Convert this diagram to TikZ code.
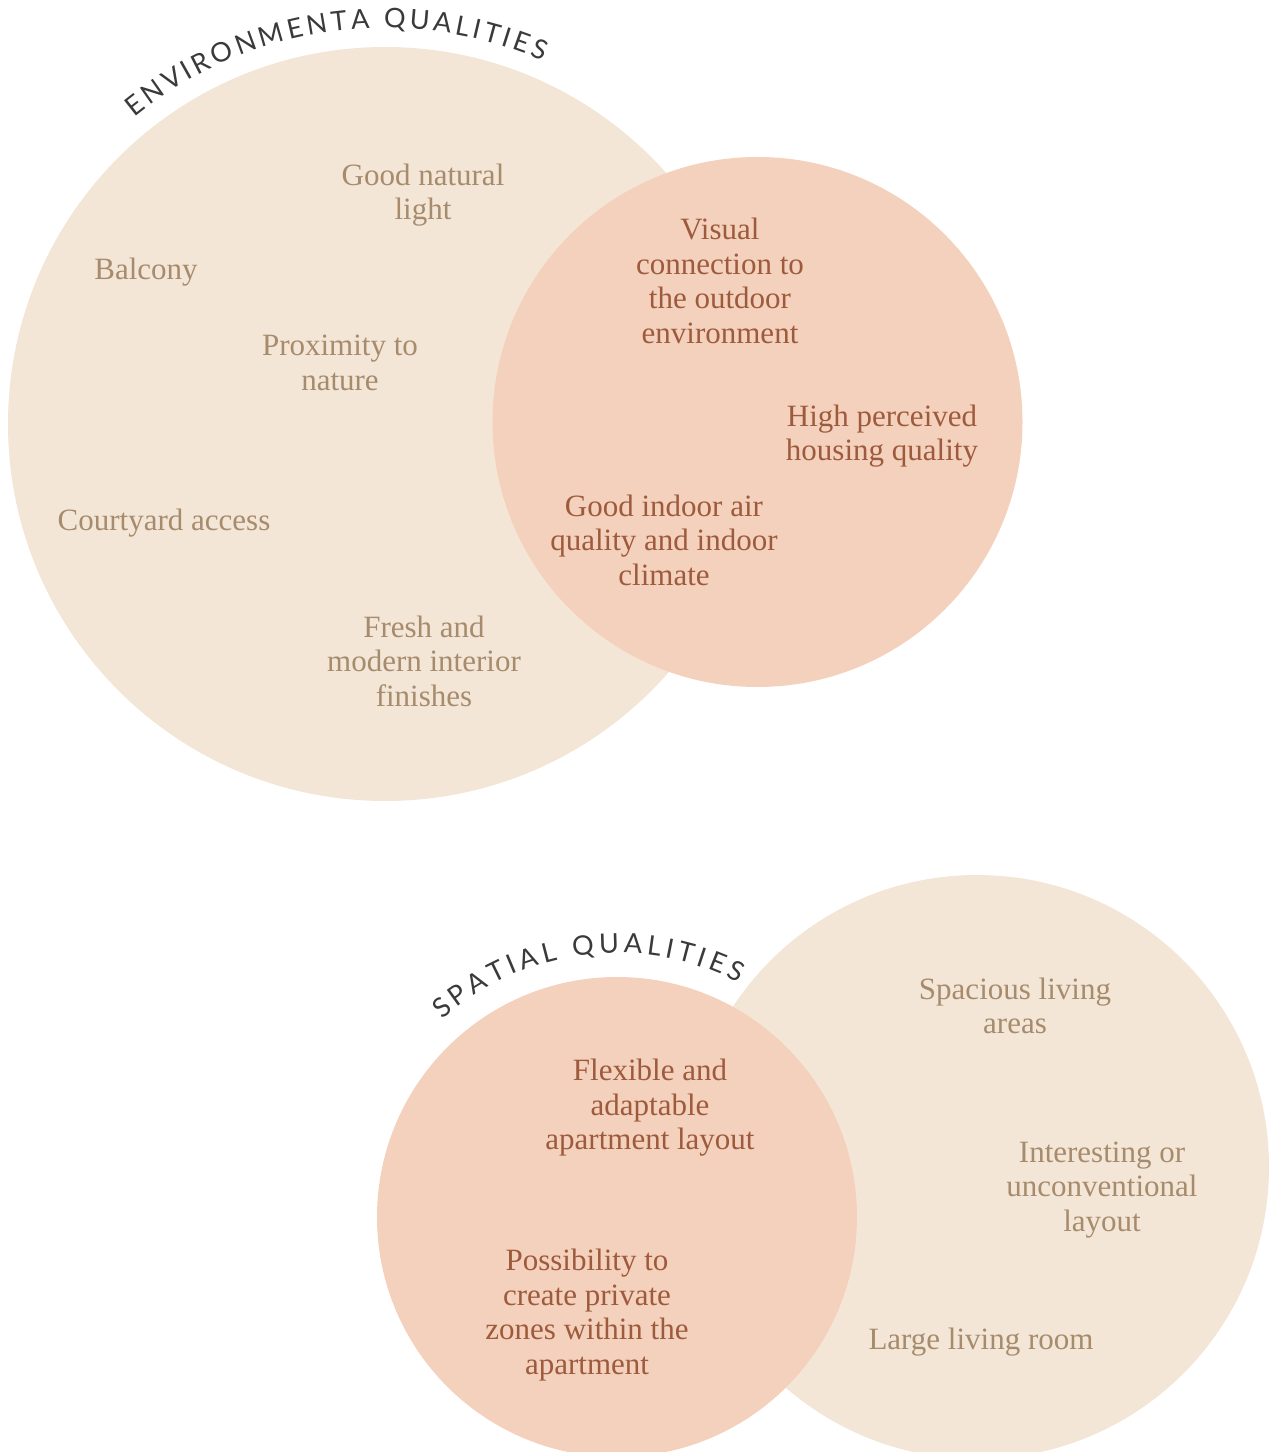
\documentclass[tikz,border=0pt]{standalone}
\usepackage{fontspec}
\setmainfont{Liberation Serif}
\newfontfamily\titlefont{Lato}
\usetikzlibrary{decorations.text}
\definecolor{beige}{HTML}{F4E6D6}
\definecolor{salmon}{HTML}{F4D1BC}
\definecolor{beigetext}{HTML}{A68B6D}
\definecolor{salmontext}{HTML}{9E5A3C}
\definecolor{titlec}{HTML}{3A3A3A}
\tikzset{
  lbl/.style={align=center, font=\fontsize{31}{34.5}\selectfont, inner sep=0pt},
  btxt/.style={lbl, text=beigetext},
  stxt/.style={lbl, text=salmontext}
}
\begin{document}
\begin{tikzpicture}[x=1pt,y=1pt]
\useasboundingbox (0,0) rectangle (1269,1452);
\clip (0,0) rectangle (1269,1452);
% circles
\fill[beige] (385,1028) circle[radius=377pt];
\fill[salmon] (757.5,1030) circle[radius=265pt];
\fill[beige] (977,285) circle[radius=292pt];
\fill[salmon] (617,235) circle[radius=240pt];
% titles
\path[decorate, decoration={text along path, text align={fit to path},
  text={|\titlefont\fontsize{27}{30}\selectfont\color{titlec}|ENVIRONMENTA QUALITIES}}]
  (385,1028) ++(129.3:396pt) arc[start angle=129.3, end angle=66.5, radius=396pt];
\path[decorate, decoration={text along path, text align={fit to path},
  text={|\titlefont\fontsize{27}{30}\selectfont\color{titlec}|SPATIAL QUALITIES}}]
  (617,235) ++(131.5:264pt) arc[start angle=131.5, end angle=62.5, radius=264pt];
% environment texts
\node[btxt] (light) at (423,1257) {Good natural\\light};
\node[btxt] (balcony) at (146,1180) {Balcony};
\node[btxt] (nature) at (340,1089) {Proximity to\\nature};
\node[btxt] (court) at (164,929) {Courtyard access};
\node[btxt] (fresh) at (424,791) {Fresh and\\modern interior\\finishes};
\node[stxt] (visual) at (720,1171) {Visual\\connection to\\the outdoor\\environment};
\node[stxt] (high) at (882,1016) {High perceived\\housing quality};
\node[stxt] (air) at (664,912) {Good indoor air\\quality and indoor\\climate};
% spatial texts
\node[btxt] (spacious) at (1015,446) {Spacious living\\areas};
\node[btxt] (interesting) at (1102,262) {Interesting or\\unconventional\\layout};
\node[btxt] (large) at (981,110) {Large living room};
\node[stxt] (flexible) at (650,344) {Flexible and\\adaptable\\apartment layout};
\node[stxt] (private) at (587,137) {Possibility to\\create private\\zones within the\\apartment};
\end{tikzpicture}
\end{document}
